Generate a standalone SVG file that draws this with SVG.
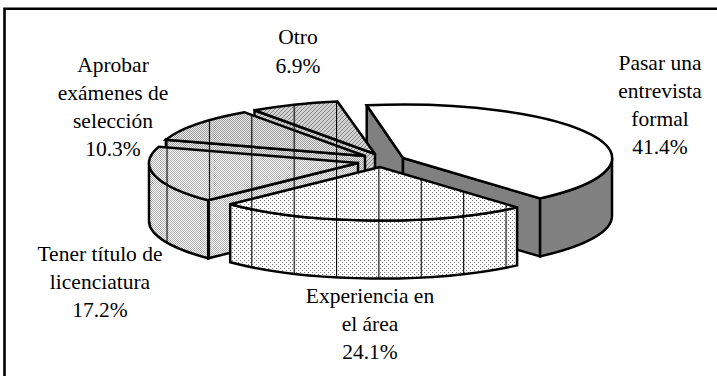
<svg xmlns="http://www.w3.org/2000/svg" width="717" height="376" viewBox="0 0 717 376">
<style>
.o{stroke:#000;stroke-width:2.5;stroke-linejoin:miter;stroke-miterlimit:3}
.g{fill:#808080}
.w{fill:#fff}
.pE{fill:url(#dE)}
.pT{fill:url(#dT)}
.pA{fill:url(#dA)}
.pO{fill:url(#dO)}
.v{fill:url(#vl);stroke:none}
</style>
<defs>
<pattern id="vl" patternUnits="userSpaceOnUse" x="166.5" y="0" width="42.375" height="10">
<rect x="0" y="0" width="1.1" height="10" fill="#000"/>
</pattern>
<pattern id="dE" patternUnits="userSpaceOnUse" width="4" height="4">
<rect width="4" height="4" fill="#fff"/>
<rect x="0" y="0" width="1" height="1" fill="#777"/>
<rect x="2" y="2" width="1" height="1" fill="#777"/>
</pattern>
<pattern id="dT" patternUnits="userSpaceOnUse" width="2" height="2">
<rect width="2" height="2" fill="#fff"/>
<rect x="0" y="0" width="1" height="1" fill="#aaa"/>
<rect x="1" y="1" width="1" height="1" fill="#aaa"/>
</pattern>
<pattern id="dA" patternUnits="userSpaceOnUse" width="2" height="2">
<rect width="2" height="2" fill="#eee"/>
<rect x="0" y="0" width="1" height="1" fill="#999"/>
<rect x="1" y="1" width="1" height="1" fill="#999"/>
</pattern>
<pattern id="dO" patternUnits="userSpaceOnUse" width="4" height="4">
<rect width="4" height="4" fill="#d0d0d0"/>
<rect x="3" y="0" width="1" height="1" fill="#888"/>
<rect x="2" y="1" width="1" height="1" fill="#888"/>
<rect x="1" y="2" width="1" height="1" fill="#888"/>
<rect x="0" y="3" width="1" height="1" fill="#888"/>
</pattern>
</defs>

<path id="frame" d="M4.5,376 L4.5,8.7 L717,8.7" fill="none" stroke="#000" stroke-width="2.6"/>

<g id="slice-pasar">
<path class="o g" d="M403,158 L366.7,105.3 L366.7,163.3 L403,216 Z"/>
<path class="o g" d="M403,158 L540.1,198.4 L540.1,256.4 L403,216 Z"/>
<path class="o g" d="M540.1,198.4 A209,53.5 0 0 0 612,158 L612,216 A209,53.5 0 0 1 540.1,256.4 Z"/>
<path class="o w" d="M403,158 L540.1,198.4 A209,53.5 0 0 0 366.7,105.3 Z"/>
</g>

<g id="slice-otro">
<path class="o pO" d="M375,154 L254.5,110.3 L254.5,168.3 L375,212 Z"/>
<path class="v" d="M375,154 L254.5,110.3 L254.5,168.3 L375,212 Z"/>
<path class="o pO" d="M375,154 L337.3,101.4 A209,53.5 0 0 0 254.5,110.3 Z"/>
<path class="v" d="M375,154 L337.3,101.4 A209,53.5 0 0 0 254.5,110.3 Z"/>
</g>

<g id="slice-aprobar">
<path class="o pA" d="M365,156 L165.9,139.7 L165.9,197.7 L365,214 Z"/>
<path class="v" d="M365,156 L165.9,139.7 L165.9,197.7 L365,214 Z"/>
<path class="o pA" d="M365,156 L244.5,112.3 A209,53.5 0 0 0 165.9,139.7 Z"/>
<path class="v" d="M365,156 L244.5,112.3 A209,53.5 0 0 0 165.9,139.7 Z"/>
</g>

<g id="slice-tener">
<path class="o pT" d="M358,163 L208.2,200.3 L208.2,258.3 L358,221 Z"/>
<path class="v" d="M358,163 L208.2,200.3 L208.2,258.3 L358,221 Z"/>
<path class="o pT" d="M149,163 A209,53.5 0 0 0 208.2,200.3 L208.2,258.3 A209,53.5 0 0 1 149,221 Z"/>
<path class="v" d="M149,163 A209,53.5 0 0 0 208.2,200.3 L208.2,258.3 A209,53.5 0 0 1 149,221 Z"/>
<path class="o pT" d="M358,163 L158.9,146.7 A209,53.5 0 0 0 208.2,200.3 Z"/>
<path class="v" d="M358,163 L158.9,146.7 A209,53.5 0 0 0 208.2,200.3 Z"/>
</g>

<g id="slice-experiencia">
<path class="o pE" d="M230.2,204.3 A209,53.5 0 0 0 517.1,207.4 L517.1,265.4 A209,53.5 0 0 1 230.2,262.3 Z"/>
<path class="v" d="M230.2,204.3 A209,53.5 0 0 0 517.1,207.4 L517.1,265.4 A209,53.5 0 0 1 230.2,262.3 Z"/>
<path class="o pE" d="M380,167 L230.2,204.3 A209,53.5 0 0 0 517.1,207.4 Z"/>
<path class="v" d="M380,167 L230.2,204.3 A209,53.5 0 0 0 517.1,207.4 Z"/>
</g>

<g id="labels" font-family="Liberation Serif" font-size="21.5" fill="#000" text-anchor="middle">
<g id="label-pasar">
<text x="660" y="70">Pasar una</text>
<text x="660" y="98">entrevista</text>
<text x="660" y="126">formal</text>
<text x="660" y="154">41.4%</text>
</g>
<g id="label-otro">
<text x="298" y="44">Otro</text>
<text x="298" y="72.5">6.9%</text>
</g>
<g id="label-aprobar">
<text x="113" y="72">Aprobar</text>
<text x="113" y="100">exámenes de</text>
<text x="113" y="128">selección</text>
<text x="113" y="156">10.3%</text>
</g>
<g id="label-tener">
<text x="100" y="261">Tener título de</text>
<text x="100" y="289">licenciatura</text>
<text x="100" y="317">17.2%</text>
</g>
<g id="label-experiencia">
<text x="370" y="303">Experiencia en</text>
<text x="370" y="331">el área</text>
<text x="370" y="359">24.1%</text>
</g>
</g>
</svg>
